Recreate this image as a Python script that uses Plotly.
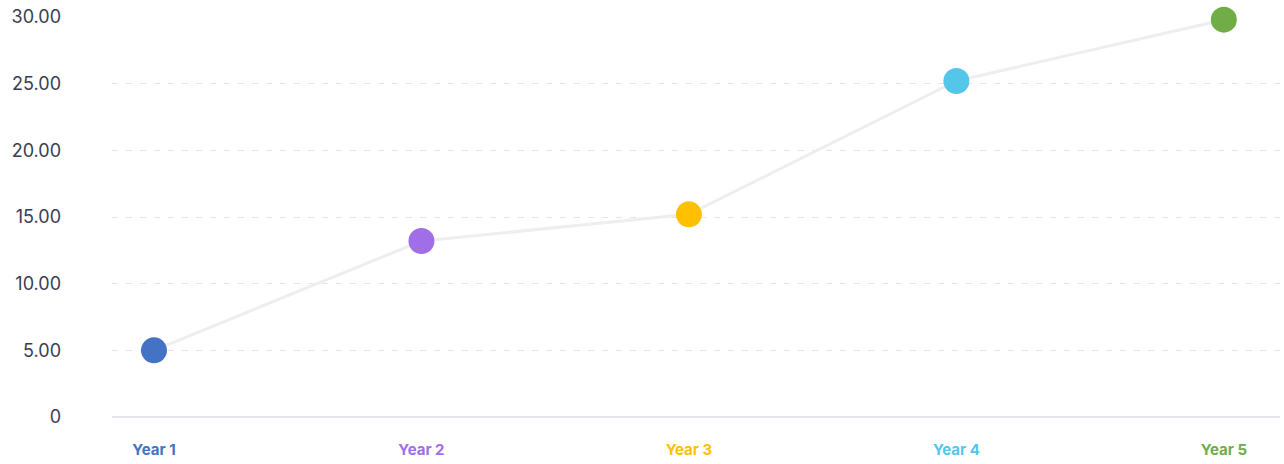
import plotly.graph_objects as go

categories = ["Year 1", "Year 2", "Year 3", "Year 4", "Year 5"]
values = [5.0, 13.2, 15.2, 25.2, 29.8]
colors = ["#4472c4", "#a06ee6", "#ffc000", "#53c6ea", "#70ad47"]
ytick_vals = [0, 5, 10, 15, 20, 25, 30]
ytick_text = ["0", "5.00", "10.00", "15.00", "20.00", "25.00", "30.00"]

xs = list(range(len(categories)))

fig = go.Figure()
fig.add_trace(go.Scatter(
    x=xs, y=values, mode="lines",
    line=dict(color="#eeeeee", width=3),
    hoverinfo="skip", showlegend=False, cliponaxis=False,
))
fig.add_trace(go.Scatter(
    x=xs, y=values, mode="markers",
    marker=dict(size=26, color=colors, line=dict(width=0)),
    showlegend=False, cliponaxis=False,
))

fig.update_layout(
    width=1284, height=464,
    margin=dict(l=112, r=4, t=17, b=47),
    paper_bgcolor="white", plot_bgcolor="white",
    font=dict(family="Inter, sans-serif"),
    xaxis=dict(
        range=[-0.157, 4.21],
        tickvals=xs,
        ticktext=[f"<b><span style='color:{c}'>{t}</span></b>" for t, c in zip(categories, colors)],
        tickfont=dict(size=15),
        showgrid=False, zeroline=False,
        showline=False, ticks="", ticklabelstandoff=22,
    ),
    yaxis=dict(
        range=[0, 30],
        tickvals=ytick_vals, ticktext=ytick_text,
        tickfont=dict(size=18, color="#3a3d52"),
        showgrid=True, gridcolor="#e4e4ee", griddash="6px,8px", gridwidth=1,
        zeroline=True, zerolinecolor="#e6e6ea", zerolinewidth=2,
        ticks="", ticklabelstandoff=50,
    ),
)

fig.write_html("out.html")
